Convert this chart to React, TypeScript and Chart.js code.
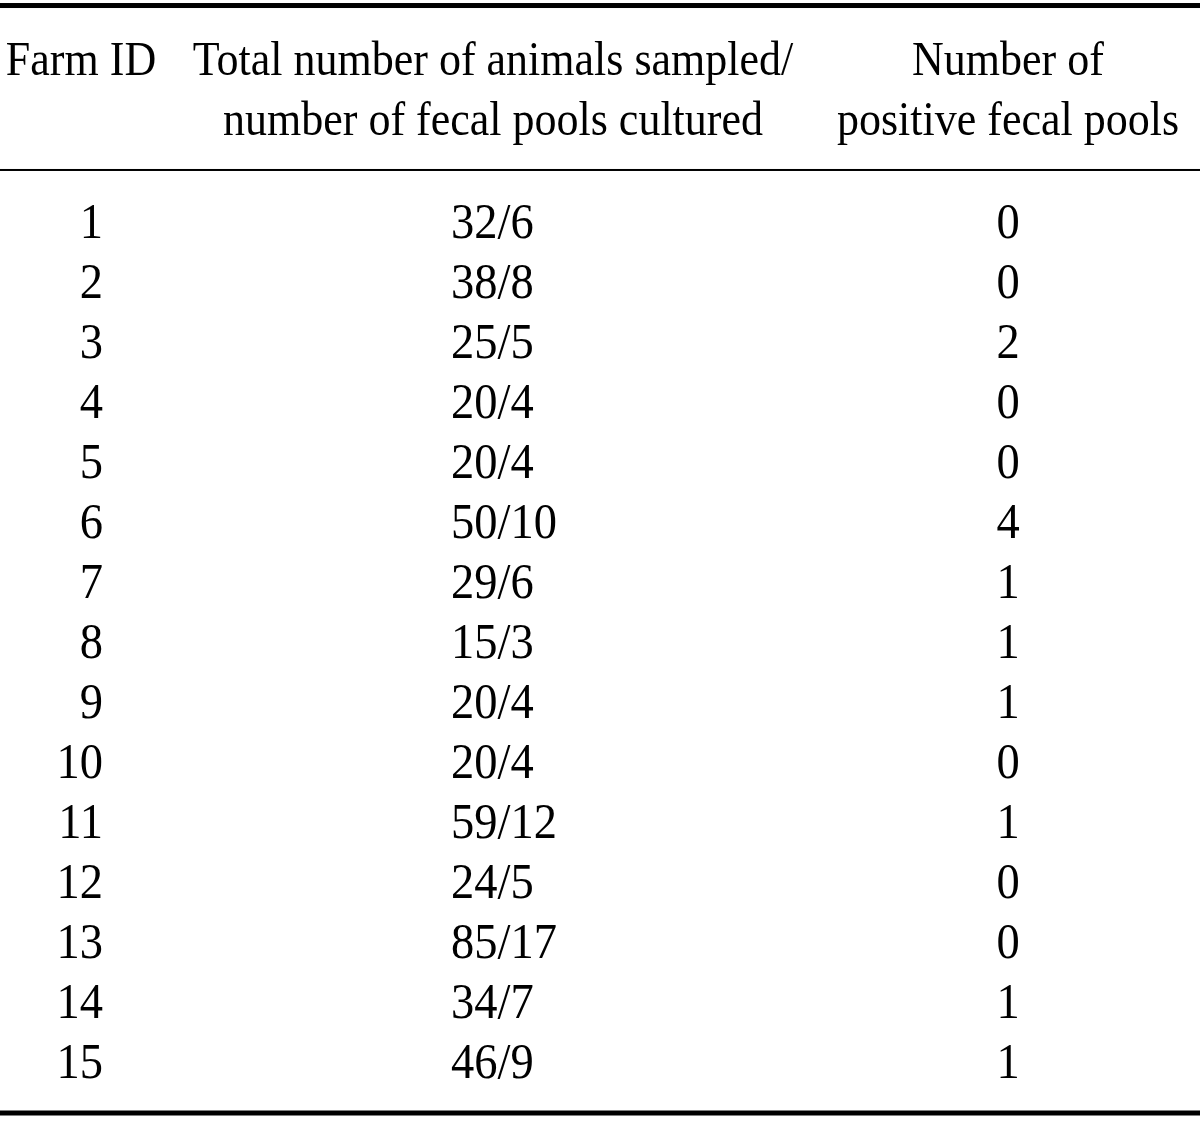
import { useEffect, useRef } from "react";
import { Chart, registerables } from "chart.js";

Chart.register(...registerables);

// ---- table data ----
const farmIds = ["1", "2", "3", "4", "5", "6", "7", "8", "9", "10", "11", "12", "13", "14", "15"];
const animalsPerPools = [
  "32/6", "38/8", "25/5", "20/4", "20/4", "50/10", "29/6", "15/3",
  "20/4", "20/4", "59/12", "24/5", "85/17", "34/7", "46/9",
];
const positivePools = [0, 0, 2, 0, 0, 4, 1, 1, 1, 0, 1, 0, 0, 1, 1];

const headerFarm = ["Farm ID"];
const headerTotal = ["Total number of animals sampled/", "number of fecal pools cultured"];
const headerPositive = ["Number of", "positive fecal pools"];

// ---- layout (row units on y, pixel-like units on x) ----
const X_MIN = 0;
const X_MAX = 1200;
const Y_MIN = -2.7;
const Y_MAX = 16;
const COL_FARM_RIGHT = 103;
const COL_FARM_HEAD = 81;
const COL_TOTAL_LEFT = 451;
const COL_TOTAL_HEAD = 493;
const COL_POS = 1008;
const HEADER_ROWS = [-1.717, -0.717];
const RULES = [
  { y: -2.608, w: 5 },
  { y: 0.133, w: 2 },
  { y: 15.85, w: 5 },
];
const HEAD_FONT = '44px "Liberation Serif", "Times New Roman", serif';
const HEAD_SCALE_Y = 1.1;
const BODY_FONT = '46.5px "Liberation Serif", "Times New Roman", serif';
const BODY_SCALE_Y = 1.07;
const BASELINE_OFFSET = 16;

function drawText(
  ctx: CanvasRenderingContext2D,
  t: string,
  x: number,
  y: number,
  align: CanvasTextAlign,
  font: string,
  sy: number
) {
  ctx.save();
  ctx.translate(x, y);
  ctx.scale(1, sy);
  ctx.font = font;
  ctx.textAlign = align;
  ctx.textBaseline = "alphabetic";
  ctx.fillText(t, 0, 0);
  ctx.restore();
}

const tablePlugin = {
  id: "tableText",
  afterDatasetsDraw(chart: any) {
    const ctx = chart.ctx as CanvasRenderingContext2D;
    const xs = chart.scales.x;
    const ys = chart.scales.y;
    ctx.save();
    ctx.fillStyle = "#000";

    // rules
    RULES.forEach((r) => {
      const py = ys.getPixelForValue(r.y);
      const x0 = xs.getPixelForValue(X_MIN);
      const x1 = xs.getPixelForValue(X_MAX);
      ctx.fillRect(x0, py - r.w / 2, x1 - x0, r.w);
    });

    // headers
    const drawHead = (lines: string[], x: number) => {
      lines.forEach((t, i) => {
        drawText(
          ctx,
          t,
          xs.getPixelForValue(x),
          ys.getPixelForValue(HEADER_ROWS[i]) + BASELINE_OFFSET,
          "center",
          HEAD_FONT,
          HEAD_SCALE_Y
        );
      });
    };
    drawHead(headerFarm, COL_FARM_HEAD);
    drawHead(headerTotal, COL_TOTAL_HEAD);
    drawHead(headerPositive, COL_POS);

    // cells from dataset points
    const aligns: CanvasTextAlign[] = ["right", "left", "center"];
    chart.data.datasets.forEach((ds: any, di: number) => {
      const meta = chart.getDatasetMeta(di);
      meta.data.forEach((el: any, i: number) => {
        drawText(ctx, String(ds.labelsText[i]), el.x, el.y + BASELINE_OFFSET, aligns[di], BODY_FONT, BODY_SCALE_Y);
      });
    });
    ctx.restore();
  },
};

export default function App() {
  const ref = useRef<HTMLCanvasElement | null>(null);

  useEffect(() => {
    document.body.style.margin = "0";
    const canvas = ref.current;
    if (!canvas) return;
    const rowIdx = farmIds.map((_, i) => i + 1);
    const chart = new Chart(canvas, {
      type: "scatter",
      data: {
        datasets: [
          {
            label: "Farm ID",
            data: rowIdx.map((r) => ({ x: COL_FARM_RIGHT, y: r })),
            labelsText: farmIds,
            pointRadius: 0,
          } as any,
          {
            label: "Total number of animals sampled/number of fecal pools cultured",
            data: rowIdx.map((r) => ({ x: COL_TOTAL_LEFT, y: r })),
            labelsText: animalsPerPools,
            pointRadius: 0,
          } as any,
          {
            label: "Number of positive fecal pools",
            data: rowIdx.map((r) => ({ x: COL_POS, y: r })),
            labelsText: positivePools,
            pointRadius: 0,
          } as any,
        ],
      },
      options: {
        animation: false,
        responsive: false,
        devicePixelRatio: 1,
        layout: { padding: 0 },
        plugins: { legend: { display: false }, tooltip: { enabled: false } },
        events: [],
        scales: {
          x: { type: "linear", min: X_MIN, max: X_MAX, display: false },
          y: { type: "linear", min: Y_MIN, max: Y_MAX, reverse: true, display: false },
        },
      },
      plugins: [tablePlugin],
    });
    return () => chart.destroy();
  }, []);

  return (
    <div style={{ width: 1200, height: 1122, background: "#fff" }}>
      <canvas ref={ref} width={1200} height={1122} style={{ display: "block" }} />
    </div>
  );
}
